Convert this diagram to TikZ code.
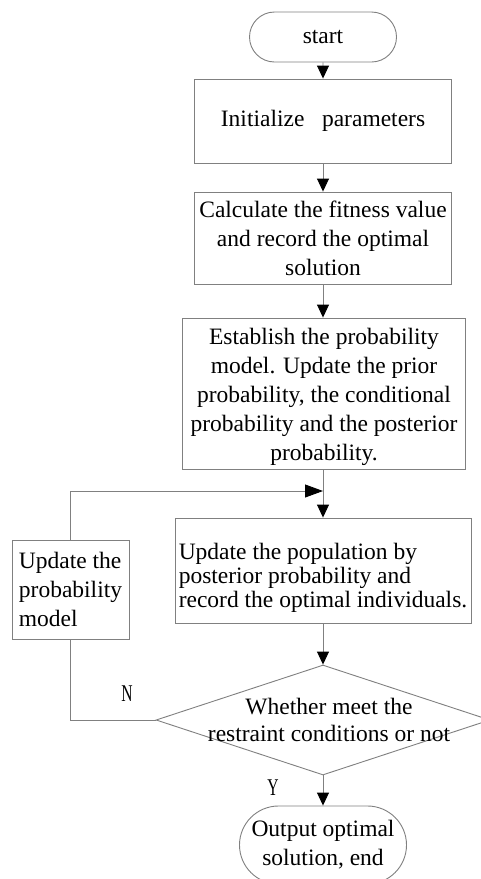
\documentclass[tikz,border=0pt]{standalone}
\usepackage{fontspec}
\setmainfont{Liberation Serif}
\usetikzlibrary{shapes.geometric,shapes.misc,arrows.meta}
\tikzset{
  box/.style={draw=linegray, line width=0.9pt, rectangle, inner sep=0pt, align=center,
    font=\fontsize{23.5}{29}\selectfont},
  pill/.style={draw=linegray, line width=0.9pt, rounded rectangle, inner sep=0pt, align=center,
    font=\fontsize{23.5}{29}\selectfont},
  flow/.style={draw=linegray, line width=0.9pt, -{Triangle[length=13pt,width=12pt,color=black]}},
  flowh/.style={draw=linegray, line width=0.9pt, -{Triangle[length=18pt,width=13pt,color=black]}},
  conn/.style={draw=linegray, line width=0.9pt},
  yn/.style={font=\fontsize{24}{29}\selectfont, inner sep=0pt}
}
\definecolor{linegray}{RGB}{128,128,128}
\begin{document}
\begin{tikzpicture}[x=1pt,y=-1pt]
\useasboundingbox (0,0) rectangle (481,879);
\clip (0,0) rectangle (481,879);
\fill[white] (0,0) rectangle (481,879);
\node[pill, minimum width=147pt, minimum height=50pt] (start) at (323,37) {start};
\node[box, minimum width=257pt, minimum height=84pt] (init) at (323,121) {Initialize\ \ \ parameters};
\node[box, minimum width=257pt, minimum height=92pt] (calc) at (323,238) {Calculate the fitness value\\and record the optimal\\solution};
\node[box, minimum width=283pt, minimum height=151pt, label={[align=center, font=\fontsize{23.5}{29}\selectfont, inner sep=0pt, yshift=-3pt]center:{Establish the probability\\model. Update the prior\\probability, the conditional\\probability and the posterior\\probability.}}] (estab) at (324,393.5) {};
\node[box, minimum width=296pt, minimum height=105pt, label={[align=left, font=\fontsize{23.5}{24}\selectfont, inner sep=0pt, yshift=-7pt]center:{Update the population by\\posterior probability and\\record the optimal individuals.}}] (upd) at (323,570.5) {};
\node[box, minimum width=117pt, minimum height=99pt, align=left] (left) at (70.5,589.5) {Update the\\probability\\model};
\node[draw=linegray, line width=0.9pt, diamond, minimum width=334pt, minimum height=110pt, inner sep=0pt, label={[align=center, font=\fontsize{23.5}{27}\selectfont, inner sep=0pt, xshift=6pt]center:{Whether meet the\\restraint conditions or not}}] (dec) at (323,720) {};
\node[pill, minimum width=167pt, minimum height=78pt] (out) at (323,845) {Output optimal\\solution, end};
\coordinate (fb) at (323,491);
\node[yn] (N) at (127,694) {\scalebox{0.65}[1]{N}};
\node[yn] (Y) at (273,788) {\scalebox{0.65}[1]{Y}};
\draw[flow] (start) -- (init);
\draw[flow] (init) -- (calc);
\draw[flow] (calc) -- (calc |- estab.north);
\draw[flow] (estab.south -| upd.north) -- (upd);
\draw[flow] (upd) -- (dec);
\draw[flow] (dec) -- (out);
\draw[conn] (dec.west) -| (left.south);
\draw[flowh] (left.north) |- (fb);
\end{tikzpicture}
\end{document}
